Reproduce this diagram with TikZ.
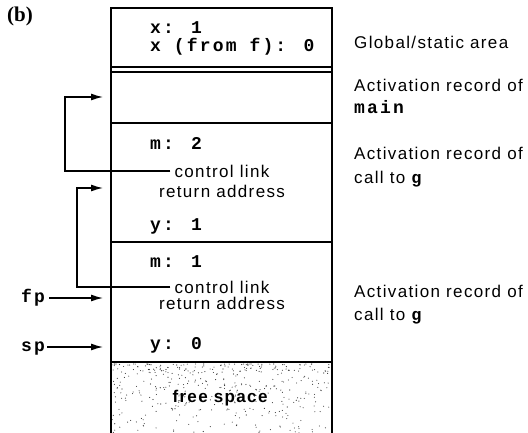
\documentclass[tikz,border=0pt]{standalone}
\usepackage{fontspec}
\setmainfont{Liberation Sans}[LetterSpace=8]
\newfontfamily\codefont{Liberation Mono}[LetterSpace=12]
\newfontfamily\serifbfont{Liberation Serif}
\usetikzlibrary{arrows.meta}
\begin{document}
\begin{tikzpicture}[x=1pt,y=-1pt,
  lab/.style={font=\fontsize{17}{20}\selectfont, inner sep=0pt, anchor=base west},
  ctr/.style={font=\fontsize{17}{20}\selectfont, inner sep=0pt},
  code/.style={font=\codefont\bfseries\fontsize{18}{20}\selectfont, inner sep=0pt, anchor=base west},
  col/.style={line width=1.7pt},
  link/.style={line width=1.3pt, -{Latex[length=12pt,width=7pt]}},
]
\useasboundingbox (0,0) rectangle (528,433);
% free space stipple
\pgfmathsetseed{11}
\foreach \i in {1,...,420} {
  \pgfmathsetmacro\xx{112+219*rnd}
  \pgfmathsetmacro\yy{364+69*rnd^1.6}
  \fill[black!80] (\xx,\yy) circle (0.55pt);
}
% column
\draw[col] (111,433) -- (111,8) -- (332,8) -- (332,433);
\draw[col] (111,67) -- (332,67);
\draw[line width=1.2pt] (111,72) -- (332,72);
\draw[col] (111,123) -- (332,123);
\draw[col] (111,242) -- (332,242);
\draw[col] (111,362) -- (332,362);
% label (b)
\node[font=\serifbfont\bfseries\fontsize{21}{23}\selectfont, inner sep=0pt, anchor=base west] (b) at (7,22) {(b)};
% global area
\node[code] (x1) at (150,34) {x: 1};
\node[code] (xf) at (150,52) {x (from f): 0};
% first g record
\node[code] (m2) at (150,150) {m: 2};
\node[ctr] (cl1) at (222,171) {control link};
\node[ctr, anchor=base] (ra1) at (222,197) {return address};
\node[code] (y1) at (150,231) {y: 1};
% second g record
\node[code] (m1) at (150,268) {m: 1};
\node[ctr] (cl2) at (222,287) {control link};
\node[ctr, anchor=base] (ra2) at (222,309) {return address};
\node[code] (y0) at (150,349) {y: 0};
% free space
\node[font=\bfseries\fontsize{17}{20}\selectfont, inner sep=0pt, anchor=base] (fs) at (220,402) {free space};
% right labels
\node[lab] (gl) at (354,49) {Global/static area};
\node[lab] (am1) at (354,92) {Activation record of};
\node[code] (am2) at (354,114) {main};
\node[lab] (ag1) at (354,160) {Activation record of};
\node[lab] (ag2) at (354,184) {call to {\codefont\bfseries g}};
\node[lab] (ah1) at (354,298) {Activation record of};
\node[lab] (ah2) at (354,320) {call to {\codefont\bfseries g}};
% pointers
\node[code] (fp) at (21,302) {fp};
\node[code] (sp) at (21,351) {sp};
\coordinate (c1) at (65,97);
\coordinate (t1) at (103,97);
\coordinate (c2) at (77,188);
\coordinate (t2) at (103,188);
\coordinate (tfp) at (103,298);
\coordinate (tsp) at (103,347);
\draw[link] ([xshift=-4pt]cl1.west) -| (c1) -- (t1);
\draw[link] ([xshift=-4pt]cl2.west) -| (c2) -- (t2);
\draw[link] ([xshift=4pt]fp.east |- tfp) -- (tfp);
\draw[link] ([xshift=2pt]sp.east |- tsp) -- (tsp);
\end{tikzpicture}
\end{document}
